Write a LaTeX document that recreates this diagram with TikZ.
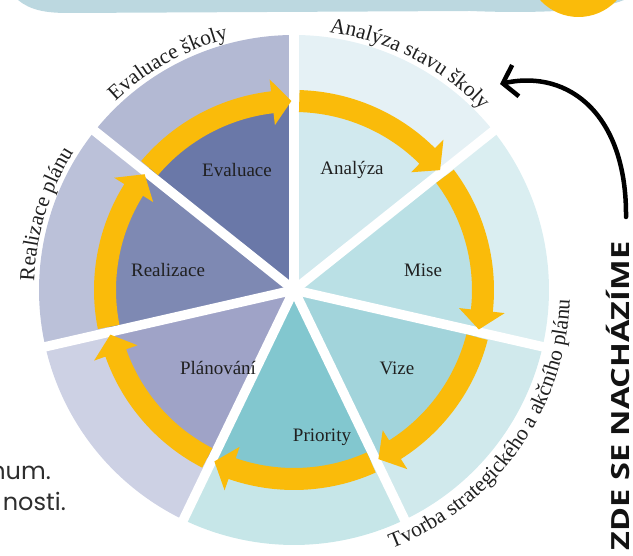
\documentclass[tikz,border=0pt]{standalone}
\usepackage{fontspec}
\setmainfont{Liberation Serif}
\newfontfamily\zdefont{Open Sans}
\newfontfamily\popfont{Poppins}
\usetikzlibrary{decorations.text,arrows.meta}
\definecolor{outA}{HTML}{E5F1F5}
\definecolor{outB}{HTML}{DAEEF1}
\definecolor{outC}{HTML}{D0E9EC}
\definecolor{outD}{HTML}{C6E6E8}
\definecolor{outE}{HTML}{CDD1E4}
\definecolor{outF}{HTML}{BBC1D9}
\definecolor{outG}{HTML}{B3B9D3}
\definecolor{inA}{HTML}{D1E9EE}
\definecolor{inB}{HTML}{BAE0E5}
\definecolor{inC}{HTML}{A2D4DB}
\definecolor{inD}{HTML}{82C7CF}
\definecolor{inE}{HTML}{9FA3C7}
\definecolor{inF}{HTML}{7E89B3}
\definecolor{inG}{HTML}{6A78A8}
\definecolor{sunyellow}{HTML}{FABB0A}
\definecolor{bandblue}{HTML}{BCD8E0}
\definecolor{txt}{HTML}{202020}
\newcommand\outfont{\fontsize{21.5}{24}\selectfont}
\tikzset{
  inlab/.style={text=txt, font=\fontsize{19}{21}\selectfont, inner sep=0pt},
  outlab/.style={decorate, decoration={text along path, text align=center, text color=txt}},
  sidetext/.style={text=black!82, font=\popfont\fontsize{24}{28}\selectfont, inner sep=0pt},
}
\begin{document}
\begin{tikzpicture}[x=1pt,y=1pt]
\useasboundingbox (0,0) rectangle (633,556);
\clip (0,0) rectangle (633,556);
% top banner
\fill[bandblue] (18,556) .. controls (30,546) and (45,543) .. (68,543) -- (470,545) .. controls (545,542) and (600,546) .. (624,556) -- cycle;
\fill[sunyellow] (578.5,591) circle[radius=52];
\begin{scope}[shift={(294,266)}]
  \foreach \i/\oc/\ic in {0/outA/inA,1/outB/inB,2/outC/inC,3/outD/inD,4/outE/inE,5/outF/inF,6/outG/inG}{
    \pgfmathsetmacro\aa{90-51.428571*\i}
    \pgfmathsetmacro\ab{\aa-51.428571}
    \fill[\oc] (0,0) -- (\aa:255) arc[start angle=\aa, end angle=\ab, radius=255] -- cycle;
    \fill[\ic] (0,0) -- (\aa:189) arc[start angle=\aa, end angle=\ab, radius=189] -- cycle;
  }
  \foreach \i in {0,...,6}{
    \draw[white, line width=9.5pt] (0,0) -- ({90-51.428571*\i}:258);
  }
  \foreach \i in {0,...,6}{
    \pgfmathsetmacro\astart{90-51.428571*\i-1.6}
    \pgfmathsetmacro\atip{90-51.428571*(\i+1)+0.8}
    \pgfmathsetmacro\abase{\atip+5.8}
    \fill[sunyellow] (\astart:178) arc[start angle=\astart, end angle=\abase, radius=178]
      -- (\abase:166) -- (\atip:189) -- (\abase:212) -- (\abase:200)
      arc[start angle=\abase, end angle=\astart, radius=200] -- cycle;
  }
  \node[inlab] (lA) at (58,120) {Analýza};
  \node[inlab] (lB) at (129,20) {Mise};
  \node[inlab] (lC) at (103,-78) {Vize};
  \node[inlab] (lD) at (28,-147) {Priority};
  \node[inlab] (lE) at (-76,-78) {Plánování};
  \node[inlab] (lF) at (-126,20) {Realizace};
  \node[inlab] (lG) at (-57,120) {Evaluace};
  \path[outlab, decoration={text={|\outfont|Analýza stavu školy}}] (98:260) arc[start angle=98, end angle=28, radius=260];
  \path[outlab, decoration={text={|\outfont|Evaluace školy}}] (149:260) arc[start angle=149, end angle=89, radius=260];
  \path[outlab, decoration={text={|\outfont|Realizace plánu}}] (193:260) arc[start angle=193, end angle=133, radius=260];
  \path[outlab, decoration={text={|\outfont|Tvorba strategického a akčního plánu}}] (-80:276) arc[start angle=-80, end angle=8.8, radius=276];
\end{scope}
% right side arrow and label
\coordinate (zs) at (626,339);
\coordinate (zt) at (500,472);
\draw[line width=4.5pt, line cap=round, -{Straight Barb[length=13pt,width=32pt,line width=4.5pt]}] (zs) .. controls (627,440) and (570,487) .. (zt);
\node[rotate=90, anchor=base, inner sep=0pt, text=black!93] (zde) at (629,160)
  {\scalebox{1.3}[1]{\zdefont\bfseries\fontsize{25}{30}\selectfont ZDE SE NACHÁZÍME}};
% cut-off paragraph text at the left
\node[sidetext, anchor=base east] (t1) at (51,76) {num.};
\node[sidetext, anchor=base east] (t2) at (66,45) {nosti.};
\end{tikzpicture}
\end{document}
